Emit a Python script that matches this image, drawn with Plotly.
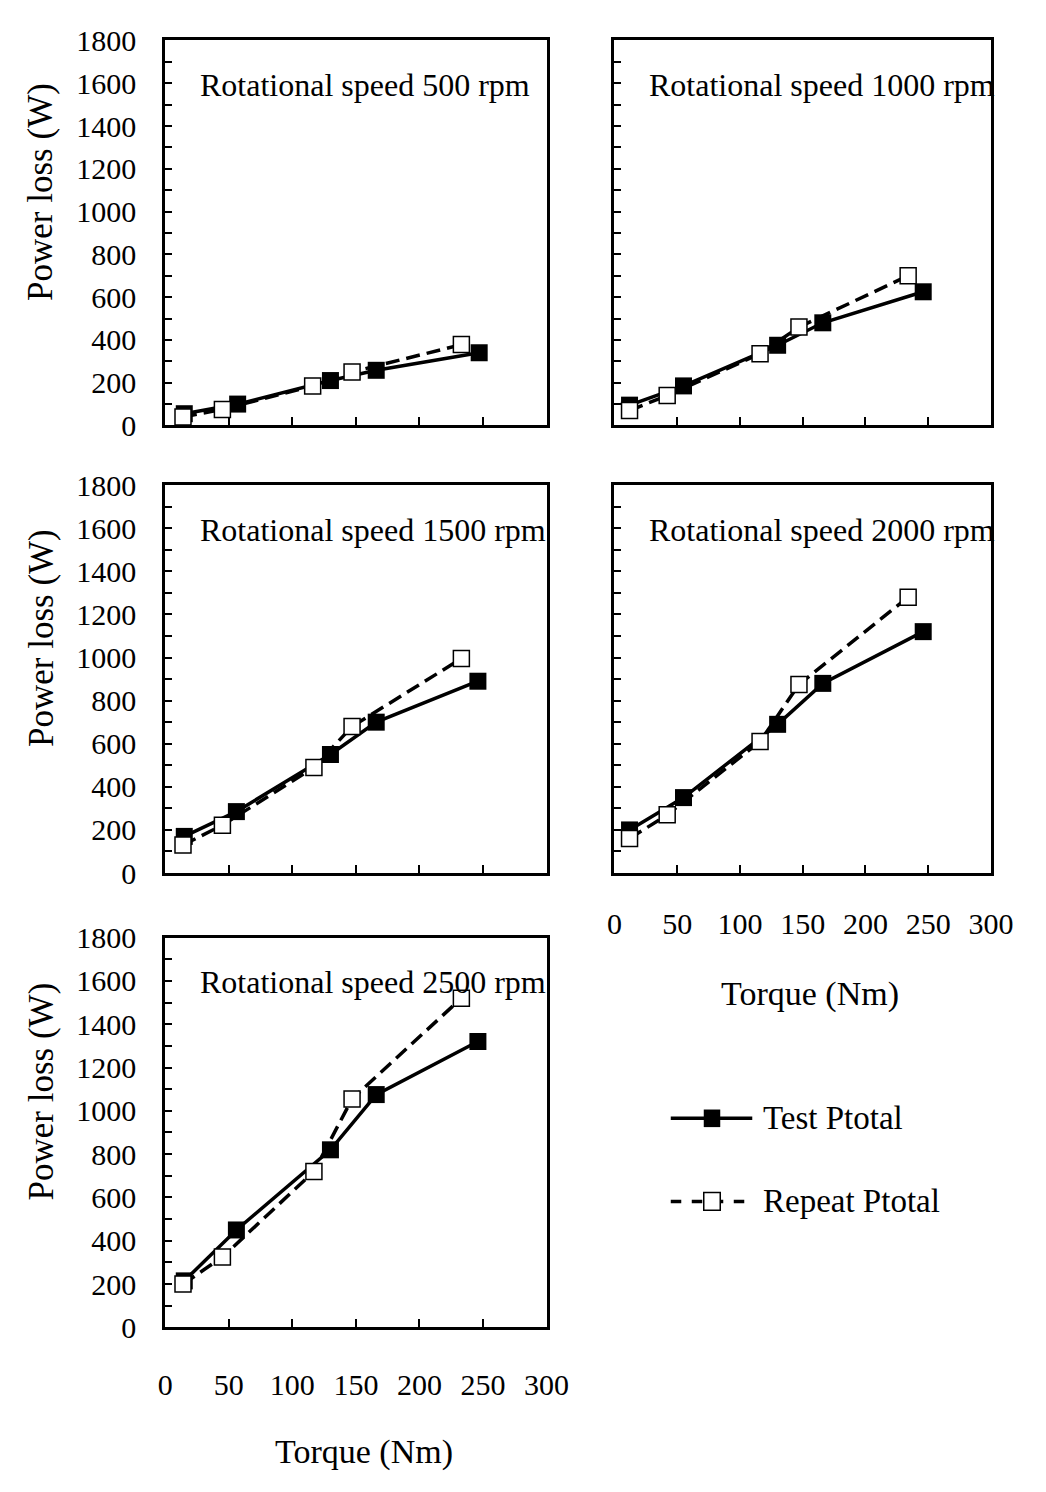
import plotly.graph_objects as go

# ---------------- data ----------------
speeds = ["500", "1000", "1500", "2000", "2500"]

test_torque = [
    [15, 57, 130, 166, 247],
    [12, 55, 130, 166, 246],
    [15, 56, 130, 166, 246],
    [12, 55, 130, 166, 246],
    [15, 56, 130, 166, 246],
]
test_power = [
    [55, 100, 210, 258, 340],
    [95, 185, 375, 480, 625],
    [170, 285, 550, 700, 890],
    [200, 350, 690, 880, 1120],
    [215, 450, 820, 1075, 1320],
]
repeat_torque = [
    [14, 45, 116, 147, 233],
    [12, 42, 116, 147, 234],
    [14, 45, 117, 147, 233],
    [12, 42, 116, 147, 234],
    [14, 45, 117, 147, 233],
]
repeat_power = [
    [40, 75, 185, 250, 378],
    [70, 140, 335, 460, 700],
    [130, 222, 490, 680, 995],
    [160, 270, 610, 875, 1280],
    [200, 325, 720, 1055, 1520],
]
y_ticks = list(range(0, 1801, 200))
x_ticks = list(range(0, 301, 50))

# ---------------- layout geometry ----------------
W, H = 1046, 1492
FONT = "Liberation Serif"

def px_x(p):
    return p / W

def px_y(p):
    return 1 - p / H

col_x = [(162, 555), (625, 1013)]
row_y = [(24, 418), (479, 876), (942, 1341)]
panel_pos = [(0, 0), (1, 0), (0, 1), (1, 1), (0, 2)]  # (col, row)

fig = go.Figure()
layout = dict(
    width=W, height=H,
    margin=dict(l=0, r=0, t=0, b=0),
    paper_bgcolor="white", plot_bgcolor="white",
    showlegend=False,
    font=dict(family=FONT, color="black"),
)
annotations = []
shapes = []

for i, sp in enumerate(speeds):
    c, r = panel_pos[i]
    xa = "xaxis" if i == 0 else f"xaxis{i+1}"
    ya = "yaxis" if i == 0 else f"yaxis{i+1}"
    xr = "x" if i == 0 else f"x{i+1}"
    yr = "y" if i == 0 else f"y{i+1}"
    x0, x1 = col_x[c]
    y0, y1 = row_y[r]
    show_x_labels = i in (3, 4)
    show_y_labels = c == 0
    layout[xa] = dict(
        domain=[px_x(x0), px_x(x1)], anchor=yr, range=[0, 300],
        tickvals=x_ticks, showticklabels=show_x_labels,
        ticks="inside", ticklen=8, tickwidth=2, tickcolor="black",
        showline=True, linecolor="black", linewidth=3, mirror=True,
        showgrid=False, zeroline=False,
        tickfont=dict(family=FONT, size=30, color="black"),
        ticklabelstandoff=22 if i == 3 else 29,
    )
    layout[ya] = dict(
        domain=[px_y(y1), px_y(y0)], anchor=xr, range=[0, 1800],
        tickvals=y_ticks, showticklabels=show_y_labels,
        ticks="inside", ticklen=7, tickwidth=2, tickcolor="black",
        minor=dict(dtick=100, tick0=0, ticks="inside", ticklen=7, tickwidth=2, tickcolor="black"),
        showline=True, linecolor="black", linewidth=3, mirror=True,
        showgrid=False, zeroline=False,
        tickfont=dict(family=FONT, size=30, color="black"),
        ticklabelstandoff=20,
    )

    fig.add_trace(go.Scatter(
        x=test_torque[i], y=test_power[i], xaxis=xr, yaxis=yr,
        mode="lines+markers", name="Test Ptotal",
        line=dict(color="black", width=3.5),
        marker=dict(symbol="square", size=17, color="black"),
        cliponaxis=False,
    ))
    fig.add_trace(go.Scatter(
        x=repeat_torque[i], y=repeat_power[i], xaxis=xr, yaxis=yr,
        mode="lines+markers", name="Repeat Ptotal",
        line=dict(color="black", width=3.5, dash="14px,7px"),
        marker=dict(symbol="square", size=16, color="white",
                    line=dict(color="black", width=1.5)),
        cliponaxis=False,
    ))

    # panel label
    annotations.append(dict(
        text=f"Rotational speed {sp} rpm", xref="paper", yref="paper",
        x=px_x(x0 + 34), y=px_y(y0 + 46), xanchor="left", yanchor="middle",
        showarrow=False, font=dict(family=FONT, size=32, color="black"),
    ))
    if show_y_labels:
        annotations.append(dict(
            text="Power loss (W)", xref="paper", yref="paper",
            x=px_x(34), y=px_y((y0 + y1) / 2 - 42), xanchor="center", yanchor="middle",
            textangle=-90, showarrow=False,
            font=dict(family=FONT, size=35, color="black"),
        ))

# x titles
annotations.append(dict(text="Torque (Nm)", xref="paper", yref="paper",
                        x=px_x(827), y=px_y(1000), xanchor="center", yanchor="middle",
                        showarrow=False, font=dict(family=FONT, size=34, color="black")))
annotations.append(dict(text="Torque (Nm)", xref="paper", yref="paper",
                        x=px_x(367), y=px_y(1468), xanchor="center", yanchor="middle",
                        showarrow=False, font=dict(family=FONT, size=34, color="black")))

# manual legend
leg = [("Test Ptotal", 1127, "solid", "black"), ("Repeat Ptotal", 1212, "dash", "white")]
for label, ly, dash, fill in leg:
    shapes.append(dict(type="line", xref="paper", yref="paper",
                       x0=px_x(683), x1=px_x(767), y0=px_y(ly), y1=px_y(ly),
                       line=dict(color="black", width=3.5, dash=dash)))
    shapes.append(dict(type="rect", xref="paper", yref="paper",
                       x0=px_x(717), x1=px_x(734), y0=px_y(ly - 9), y1=px_y(ly + 9),
                       fillcolor=fill, line=dict(color="black", width=1.5 if fill == "white" else 0)))
    annotations.append(dict(text=label, xref="paper", yref="paper",
                            x=px_x(776), y=px_y(ly), xanchor="left", yanchor="middle",
                            showarrow=False, font=dict(family=FONT, size=33, color="black")))

layout["annotations"] = annotations
layout["shapes"] = shapes
fig.update_layout(**layout)
fig.write_html("out.html")
